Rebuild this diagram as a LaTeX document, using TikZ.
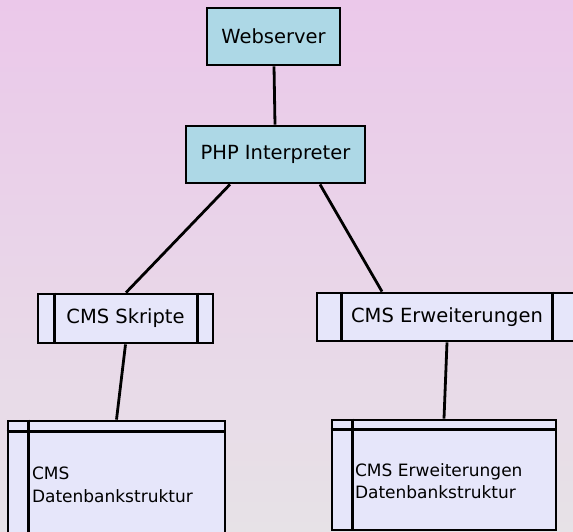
\documentclass[tikz,border=0pt]{standalone}
\usepackage{fontspec}
\setmainfont{DejaVu Sans}

\definecolor{bgtop}{HTML}{EBC8EA}
\definecolor{bgbottom}{HTML}{E7E2E7}
\definecolor{phpblue}{HTML}{ADD8E6}
\definecolor{cmslavender}{HTML}{E6E6FA}

\begin{document}
\begin{tikzpicture}[x=1pt, y=-1pt,
  box/.style={draw, line width=2.8pt, inner sep=0pt, font=\fontsize{19.5}{23}\selectfont},
  server/.style={box, fill=phpblue},
  module/.style={box, fill=cmslavender},
  dbtable/.style={draw, line width=2.8pt, fill=cmslavender, align=left, inner ysep=0pt,
    font=\fontsize{17}{22.5}\selectfont},
  link/.style={line width=2.8pt}]
  \useasboundingbox (0,0) rectangle (573,532);
  \clip (0,0) rectangle (573,532);
  \shade[top color=bgtop, bottom color=bgbottom] (0,0) rectangle (573,532);
  % servers
  \node[server, minimum width=133, minimum height=57] (web) at (273.5,36.5) {Webserver};
  \node[server, minimum width=179, minimum height=57] (php) at (275.5,154.5) {PHP Interpreter};
  % scripts
  \node[module, minimum width=175, minimum height=49] (skr) at (125.5,318.5) {CMS Skripte};
  \node[module, minimum width=260, minimum height=48] (erw) at (447,317) {CMS Erweiterungen};
  \draw[link] ([xshift=18]skr.north west) -- ([xshift=18]skr.south west);
  \draw[link] ([xshift=-17]skr.north east) -- ([xshift=-17]skr.south east);
  \draw[link] ([xshift=26]erw.north west) -- ([xshift=26]erw.south west);
  \draw[link] ([xshift=-26]erw.north east) -- ([xshift=-26]erw.south east);
  % database tables
  \node[dbtable, minimum width=217, minimum height=128, text width=169, inner xsep=24pt] (db1) at (116.5,485) {CMS\\Datenbankstruktur};
  \node[dbtable, minimum width=224, minimum height=110, text width=178, inner xsep=23pt] (db2) at (444,475) {\rule{0pt}{25pt}CMS Erweiterungen\\Datenbankstruktur};
  \draw[link] ([yshift=-12]db1.north west) -- ([yshift=-12]db1.north east);
  \draw[link] ([xshift=22]db1.north west) -- ([xshift=22]db1.south west);
  \draw[link] ([yshift=-11]db2.north west) -- ([yshift=-11]db2.north east);
  \draw[link] ([xshift=22]db2.north west) -- ([xshift=22]db2.south west);
  % connectors
  \draw[link] (web) -- (php);
  \draw[link] ([xshift=-45.5]php.south) -- ([xshift=0.5]skr.north);
  \draw[link] ([xshift=44.5]php.south) -- ([xshift=-65]erw.north);
  \draw[link] (skr.south) -- (db1.north);
  \draw[link] (erw.south) -- (db2.north);
\end{tikzpicture}
\end{document}
